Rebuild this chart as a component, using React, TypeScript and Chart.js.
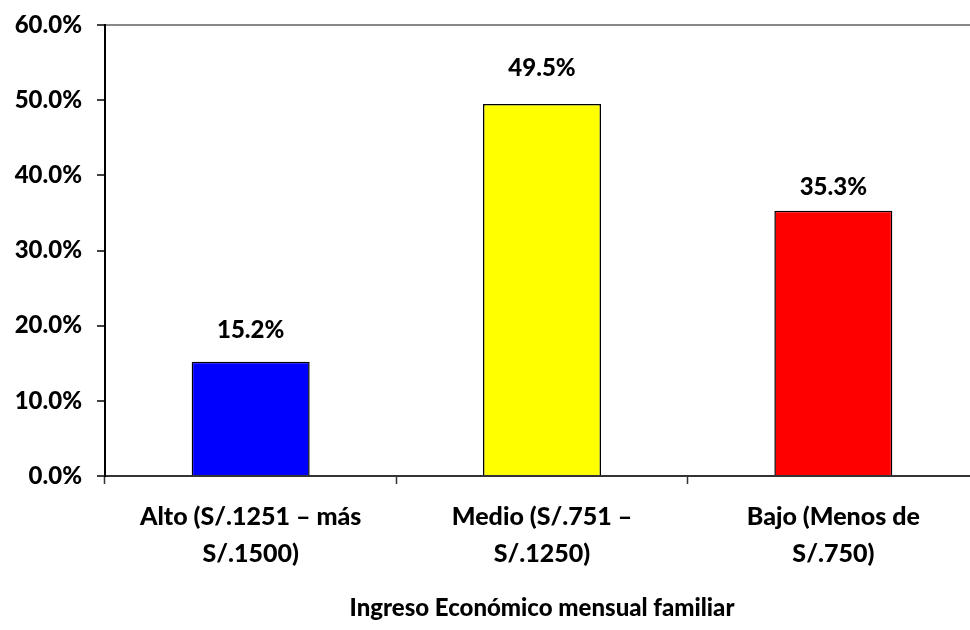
import React, { useEffect, useRef } from "react";
import { Chart, registerables } from "chart.js";

Chart.register(...registerables);

const categories: string[][] = [
  ["Alto (S/.1251 – más", "S/.1500)"],
  ["Medio (S/.751 –", "S/.1250)"],
  ["Bajo (Menos de", "S/.750)"],
];
const values: number[] = [15.2, 49.5, 35.3];
const barColors: string[] = ["#0000FF", "#FFFF00", "#FF0000"];
const yTicks: number[] = [0, 10, 20, 30, 40, 50, 60];
const xTitle = "Ingreso Económico mensual familiar";

const FONT = "Lato, 'Open Sans', sans-serif";
const labelLift = [31, 36, 23];

const valueLabels = {
  id: "valueLabels",
  afterDatasetsDraw(chart: any) {
    const ctx = chart.ctx;
    const meta = chart.getDatasetMeta(0);
    ctx.save();
    ctx.font = `900 24px ${FONT}`;
    ctx.fillStyle = "#000";
    ctx.textAlign = "center";
    ctx.textBaseline = "middle";
    meta.data.forEach((bar: any, i: number) => {
      ctx.fillText(values[i].toFixed(1) + "%", bar.x, bar.y - labelLift[i]);
    });
    ctx.restore();
  },
};

export default function App() {
  const ref = useRef<HTMLCanvasElement>(null);
  useEffect(() => {
    if (!ref.current) return;
    const chart = new Chart(ref.current, {
      type: "bar",
      data: {
        labels: categories as any,
        datasets: [
          {
            data: values,
            backgroundColor: barColors,
            borderColor: "#000",
            borderWidth: 1.5,
            categoryPercentage: 1,
            barPercentage: 0.405,
          },
        ],
      },
      plugins: [valueLabels],
      options: {
        animation: false,
        responsive: false,
        maintainAspectRatio: false,
        layout: { padding: { top: 25, right: 6, left: 0, bottom: 0 } },
        plugins: { legend: { display: false }, tooltip: { enabled: false } },
        scales: {
          x: {
            afterFit: (s: any) => {
              s.height = 154;
            },
            grid: {
              drawOnChartArea: false,
              tickLength: 8,
              tickColor: "#333",
              tickWidth: 1.5,
            },
            border: { color: "#333", width: 2 },
            ticks: {
              color: "#000",
              padding: 14,
              font: { family: FONT, size: 25, weight: "900", lineHeight: 1.48 },
            },
            title: {
              display: true,
              text: xTitle,
              color: "#000",
              font: { family: FONT, size: 24, weight: "900" },
              padding: { top: 0, bottom: 7 },
            },
          },
          y: {
            min: 0,
            max: 60,
            afterFit: (s: any) => {
              s.width = 105;
              s.paddingTop = 0;
              s.paddingBottom = 0;
            },
            afterBuildTicks: (s: any) => {
              s.ticks = yTicks.map((v) => ({ value: v }));
            },
            grid: {
              drawOnChartArea: true,
              color: (c: any) => (c.tick && c.tick.value === 60 ? "#888" : "rgba(0,0,0,0)"),
              lineWidth: 2,
              tickLength: 8,
              tickColor: "#000",
              tickWidth: 1.5,
            },
            border: { color: "#000", width: 2 },
            ticks: {
              color: "#000",
              padding: 15,
              font: { family: FONT, size: 24, weight: "900" },
              callback: (v: any) => Number(v).toFixed(1) + "%",
            },
          },
        },
      },
    });
    return () => chart.destroy();
  }, []);
  return (
    <div
      style={{
        position: "fixed",
        left: 0,
        top: 0,
        width: 970,
        height: 630,
        overflow: "hidden",
        background: "#fff",
      }}
    >
      <canvas ref={ref} width={985} height={630} style={{ display: "block" }} />
    </div>
  );
}
